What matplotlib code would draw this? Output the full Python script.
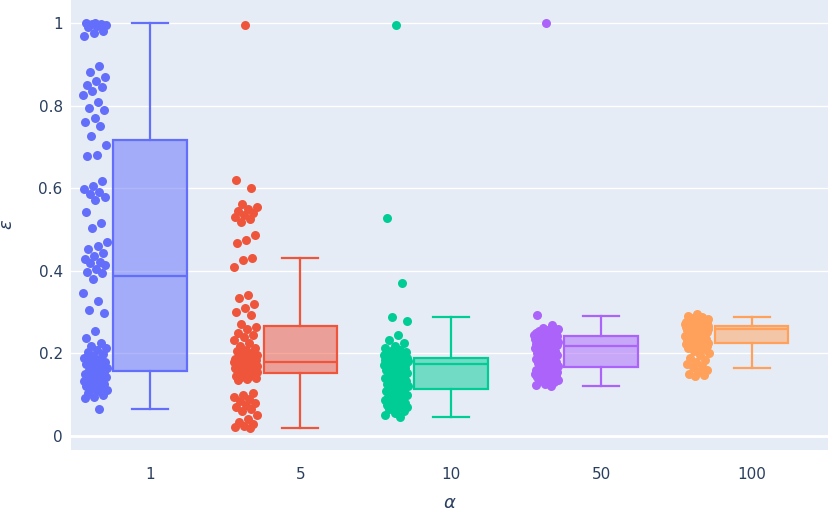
import matplotlib
matplotlib.use("Agg")
import matplotlib.pyplot as plt
import matplotlib.colors as mcolors
import numpy as np

# kategorie alfa i kolory jak w plotly
alphas = ["1", "5", "10", "50", "100"]
colors = ["#636efa", "#EF553B", "#00cc96", "#ab63fa", "#FFA15A"]

# punkty (epsilon)
eps_1 = [1.0, 1.0, 0.998, 0.997, 0.995, 0.993, 0.99, 0.98, 0.975, 0.97,
         0.896, 0.882, 0.87, 0.86, 0.85, 0.845, 0.835, 0.826, 0.81, 0.795,
         0.79, 0.77, 0.76, 0.75, 0.726,
         0.705, 0.68, 0.679, 0.617, 0.605, 0.598, 0.592, 0.585, 0.579, 0.572,
         0.542, 0.515, 0.504, 0.47, 0.46, 0.452, 0.443, 0.437, 0.428, 0.422,
         0.418, 0.413, 0.405, 0.398, 0.394,
         0.38, 0.346, 0.327, 0.305, 0.299, 0.255, 0.237, 0.225, 0.218, 0.212,
         0.208, 0.203, 0.198, 0.194, 0.19, 0.187, 0.183, 0.18, 0.177, 0.174,
         0.171, 0.168, 0.165, 0.162, 0.159,
         0.155, 0.152, 0.15, 0.148, 0.145, 0.143, 0.14, 0.138, 0.136, 0.134,
         0.132, 0.13, 0.128, 0.126, 0.122, 0.12, 0.118, 0.115, 0.112, 0.108,
         0.104, 0.1, 0.095, 0.091, 0.065]
eps_5 = [0.995, 0.621, 0.6, 0.562, 0.555, 0.55, 0.545, 0.54, 0.535, 0.53,
         0.525, 0.518, 0.487, 0.475, 0.467, 0.431, 0.425, 0.41, 0.342, 0.335,
         0.32, 0.31, 0.3, 0.293, 0.272,
         0.265, 0.258, 0.25, 0.245, 0.24, 0.232, 0.225, 0.218, 0.212, 0.208,
         0.205, 0.2, 0.197, 0.195, 0.193, 0.19, 0.188, 0.187, 0.186, 0.185,
         0.184, 0.183, 0.182, 0.181, 0.18,
         0.179, 0.178, 0.177, 0.176, 0.175, 0.174, 0.173, 0.172, 0.171, 0.17,
         0.169, 0.168, 0.167, 0.166, 0.165, 0.164, 0.163, 0.162, 0.161, 0.16,
         0.158, 0.157, 0.156, 0.155, 0.153,
         0.15, 0.148, 0.146, 0.145, 0.143, 0.14, 0.138, 0.135, 0.105, 0.1,
         0.095, 0.09, 0.085, 0.08, 0.075, 0.07, 0.065, 0.06, 0.05, 0.04,
         0.035, 0.03, 0.025, 0.022, 0.02]
eps_10 = [0.995, 0.528, 0.37, 0.287, 0.278, 0.245, 0.232, 0.225, 0.218, 0.212,
          0.208, 0.205, 0.203, 0.201, 0.2, 0.199, 0.198, 0.197, 0.196, 0.195,
          0.194, 0.193, 0.192, 0.19, 0.189,
          0.188, 0.187, 0.187, 0.186, 0.186, 0.185, 0.185, 0.184, 0.184, 0.183,
          0.183, 0.182, 0.182, 0.181, 0.181, 0.18, 0.18, 0.179, 0.179, 0.178,
          0.178, 0.177, 0.177, 0.176, 0.176,
          0.174, 0.172, 0.17, 0.168, 0.165, 0.162, 0.16, 0.157, 0.155, 0.152,
          0.15, 0.147, 0.145, 0.142, 0.14, 0.137, 0.135, 0.132, 0.13, 0.127,
          0.125, 0.122, 0.12, 0.117, 0.115,
          0.112, 0.11, 0.108, 0.105, 0.103, 0.1, 0.098, 0.095, 0.092, 0.09,
          0.088, 0.085, 0.082, 0.08, 0.078, 0.076, 0.074, 0.072, 0.07, 0.068,
          0.065, 0.06, 0.055, 0.05, 0.045]
eps_50 = [1.0, 0.293, 0.268, 0.262, 0.258, 0.256, 0.254, 0.252, 0.25, 0.249,
          0.248, 0.247, 0.246, 0.246, 0.245, 0.245, 0.244, 0.244, 0.244, 0.243,
          0.243, 0.243, 0.242, 0.242, 0.242,
          0.241, 0.24, 0.239, 0.238, 0.237, 0.236, 0.235, 0.234, 0.233, 0.232,
          0.231, 0.23, 0.229, 0.228, 0.227, 0.226, 0.225, 0.224, 0.223, 0.222,
          0.221, 0.22, 0.219, 0.218, 0.217,
          0.214, 0.212, 0.21, 0.208, 0.206, 0.204, 0.202, 0.2, 0.198, 0.196,
          0.194, 0.192, 0.19, 0.188, 0.186, 0.184, 0.182, 0.18, 0.178, 0.176,
          0.174, 0.172, 0.17, 0.168, 0.166,
          0.164, 0.162, 0.16, 0.158, 0.157, 0.156, 0.155, 0.154, 0.153, 0.152,
          0.151, 0.15, 0.148, 0.146, 0.144, 0.142, 0.14, 0.138, 0.136, 0.134,
          0.132, 0.13, 0.127, 0.124, 0.122]
eps_100 = [0.295, 0.29, 0.288, 0.285, 0.283, 0.281, 0.28, 0.279, 0.278, 0.277,
           0.276, 0.275, 0.274, 0.273, 0.272, 0.272, 0.271, 0.271, 0.27, 0.27,
           0.269, 0.269, 0.268, 0.268, 0.267,
           0.267, 0.266, 0.266, 0.265, 0.265, 0.264, 0.264, 0.263, 0.263, 0.262,
           0.262, 0.261, 0.261, 0.26, 0.26, 0.259, 0.258, 0.257, 0.256, 0.255,
           0.254, 0.252, 0.25, 0.248, 0.246,
           0.244, 0.242, 0.24, 0.238, 0.236, 0.234, 0.232, 0.23, 0.228, 0.226,
           0.225, 0.224, 0.224, 0.223, 0.223,
           0.222, 0.22, 0.218, 0.215, 0.212, 0.21, 0.205, 0.2, 0.195, 0.19,
           0.185, 0.18, 0.175, 0.17, 0.166, 0.16, 0.155, 0.15, 0.147, 0.145]
points = [eps_1, eps_5, eps_10, eps_50, eps_100]

# statystyki pudełek
q1 = [0.157, 0.152, 0.114, 0.167, 0.224]
median = [0.387, 0.179, 0.175, 0.217, 0.258]
q3 = [0.717, 0.267, 0.188, 0.242, 0.267]
whisker_low = [0.065, 0.02, 0.045, 0.122, 0.165]
whisker_high = [1.0, 0.432, 0.287, 0.291, 0.289]

BG = "#E5ECF6"
TXT = "#2a3f5f"

fig = plt.figure(figsize=(8.3, 5.11), dpi=100)
ax = fig.add_axes([0.0855, 0.1194, 0.9125, 0.8806])
ax.set_facecolor(BG)

for i in range(len(alphas)):
    c = colors[i]
    fill = mcolors.to_rgba(c, 0.5)
    stats = [dict(q1=q1[i], med=median[i], q3=q3[i], whislo=whisker_low[i],
                  whishi=whisker_high[i], fliers=[])]
    ax.bxp(stats, positions=[i], widths=0.49, patch_artist=True, showfliers=False,
           boxprops=dict(facecolor=fill, edgecolor=c, linewidth=1.6),
           medianprops=dict(color=c, linewidth=1.6),
           whiskerprops=dict(color=c, linewidth=1.6),
           capprops=dict(color=c, linewidth=1.6),
           capwidths=0.24, zorder=3, manage_ticks=False)
    # rozrzut punktów (tylko pozycja x, wartości z listy)
    n = len(points[i])
    jit = ((np.arange(n) * 0.618034 + 0.5) % 1.0 - 0.5) * 0.16
    ax.scatter(i - 0.365 + jit, points[i], s=42, color=c, linewidths=0, zorder=4)

ax.set_xlim(-0.525, 4.51)
ax.set_ylim(-0.034, 1.056)
ax.set_xticks(range(len(alphas)))
ax.set_xticklabels(alphas)
ax.set_yticks([0, 0.2, 0.4, 0.6, 0.8, 1])
ax.set_yticklabels(["0", "0.2", "0.4", "0.6", "0.8", "1"])
ax.tick_params(length=0, labelsize=11, labelcolor=TXT)
ax.tick_params(axis="x", pad=12)
ax.tick_params(axis="y", pad=6)
ax.grid(axis="y", color="white", linewidth=1)
ax.axhline(0, color="white", linewidth=2, zorder=1)
ax.set_axisbelow(True)
for s in ["top", "bottom", "left", "right"]:
    ax.spines[s].set_visible(False)

fig.text(0.009, 0.56, r"$\varepsilon$", rotation=90, fontsize=13, color=TXT,
         ha="center", va="center")
fig.text(0.542, 0.016, r"$\alpha$", fontsize=13, color=TXT, ha="center", va="center")

fig.savefig("out.png", dpi=100)
